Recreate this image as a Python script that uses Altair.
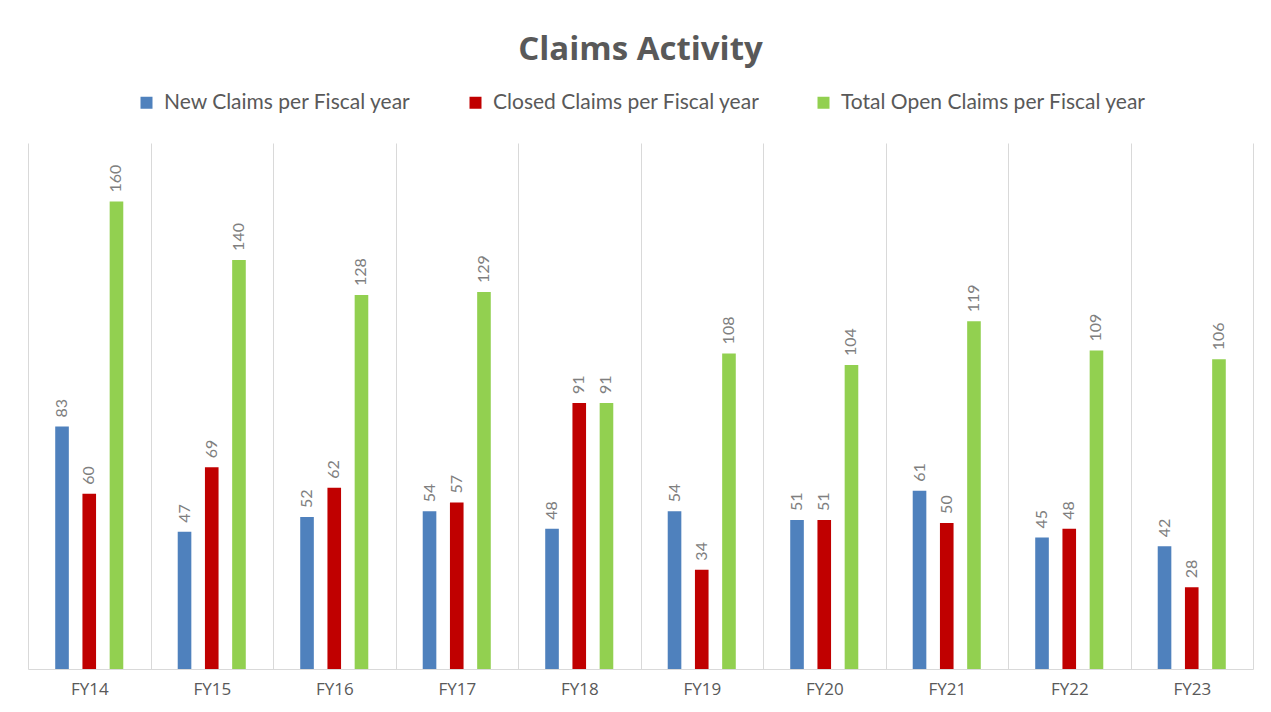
import altair as alt
import pandas as pd

years = ["FY14", "FY15", "FY16", "FY17", "FY18", "FY19", "FY20", "FY21", "FY22", "FY23"]
series = ["New Claims per Fiscal year", "Closed Claims per Fiscal year", "Total Open Claims per Fiscal year"]
new_claims = [83, 47, 52, 54, 48, 54, 51, 61, 45, 42]
closed_claims = [60, 69, 62, 57, 91, 34, 51, 50, 48, 28]
open_claims = [160, 140, 128, 129, 91, 108, 104, 119, 109, 106]
colors = ["#4f81bd", "#c00000", "#92d050"]

rows = []
for s, vals in zip(series, [new_claims, closed_claims, open_claims]):
    for y, v in zip(years, vals):
        rows.append({"year": y, "series": s, "value": v})
df = pd.DataFrame(rows)

FONT = "Lato"

x = alt.X("year:N", sort=years, title=None,
          scale=alt.Scale(paddingInner=0, paddingOuter=0),
          axis=alt.Axis(labelAngle=0, labelFontSize=17, labelColor="#595959",
                        labelPadding=12, ticks=False, tickBand="extent",
                        grid=True, gridColor="#d9d9d9", domainColor="#d9d9d9",
                        labelFont="Open Sans"))
xo = alt.XOffset("series:N", sort=series,
                 scale=alt.Scale(paddingInner=0.5, paddingOuter=1))
y = alt.Y("value:Q", scale=alt.Scale(domain=[0, 180]), axis=None)

base = alt.Chart(df).encode(x=x, xOffset=xo, y=y)

bars = base.mark_bar().encode(
    color=alt.Color("series:N", sort=series,
                    scale=alt.Scale(domain=series, range=colors),
                    legend=alt.Legend(title=None, orient="none", direction="horizontal",
                                      legendX=108, legendY=-51, symbolType="square",
                                      symbolSize=144, symbolStrokeWidth=0,
                                      labelFontSize=21, labelColor="#595959",
                                      labelFont=FONT, labelLimit=400, labelOffset=7,
                                      columnPadding=53, columns=3,
                                      symbolOpacity=1))
)

labels = base.mark_text(angle=270, align="left", baseline="middle", dx=9,
                        fontSize=16, color="#7f7f7f", font=FONT).encode(
    text=alt.Text("value:Q")
)

chart = alt.layer(bars, labels).properties(
    width=1225, height=526,
    title=alt.TitleParams("Claims Activity", fontSize=33, font="Open Sans", fontWeight="bold",
                          color="#595959", anchor="middle", offset=25),
    autosize=alt.AutoSizeParams(type="none"),
    padding={"left": 20, "top": 135, "right": 10, "bottom": 40},
).configure_view(stroke=None)

chart.save("out.html", embed_options={"renderer": "svg", "actions": False})
